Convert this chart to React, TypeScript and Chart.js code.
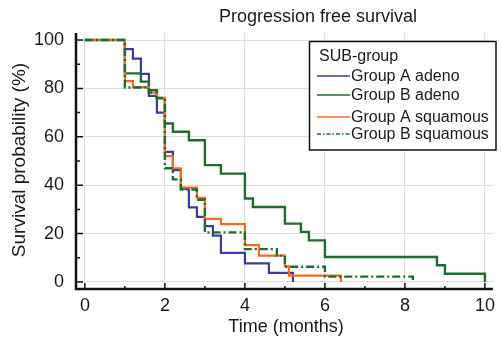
import React, { useEffect, useRef } from 'react';
import { Chart, registerables } from 'chart.js';

Chart.register(...registerables);

const TITLE = 'Progression free survival';
const X_TITLE = 'Time (months)';
const Y_TITLE = 'Survival probability (%)';
const LEGEND_TITLE = 'SUB-group';

const xTickValues = [0, 1, 2, 3, 4, 5, 6, 7, 8, 9, 10];
const yTickValues = [0, 10, 20, 30, 40, 50, 60, 70, 80, 90, 100];

const seriesNames = ['Group A adeno', 'Group B adeno', 'Group A squamous', 'Group B squamous'];

const aAdenoTime = [0, 1, 1.2, 1.4, 1.6, 1.8, 2, 2.2, 2.4, 2.6, 2.8, 3, 3.2, 3.4, 4, 4.6, 5.2];
const aAdenoSurv = [100, 96.2, 92.3, 86, 76.9, 70, 53.8, 46.2, 38.5, 30.8, 26.9, 23.1, 19.2, 12, 7.7, 3.8, 0];

const bAdenoTime = [0, 1, 1.4, 1.6, 1.8, 2, 2.2, 2.6, 3, 3.4, 4, 4.2, 5, 5.4, 5.6, 6, 8.8, 9, 10];
const bAdenoSurv = [100, 86.2, 82.8, 79.3, 75.9, 65.5, 62.1, 58.6, 48.3, 44.8, 34.5, 31, 24.1, 20.7, 17.2, 10.3, 6.9, 3.4, 0];

const aSquamTime = [0, 1, 1.2, 1.6, 1.8, 2, 2.2, 2.4, 2.8, 3, 3.4, 4, 4.35, 5, 5.1, 6.4];
const aSquamSurv = [100, 83, 80.5, 78.3, 76.1, 52, 47, 39, 34.8, 26.1, 23.9, 15.2, 10.9, 6.5, 2.6, 0];

const bSquamTime = [0, 1, 1.6, 1.8, 2, 2.2, 2.4, 2.8, 3, 4, 4.8, 5, 6, 8.2];
const bSquamSurv = [100, 80.4, 78.3, 76.1, 47, 42.4, 38.2, 34, 20.5, 13.6, 10.9, 6.3, 2.2, 0];

const BLUE = '#3c3c9e';
const GREEN = '#1f6b30';
const ORANGE = '#f26a24';
const DASH_DOT = [8, 3, 2, 3];
const FONT = '"Liberation Sans", Arial, sans-serif';
const TEXT = '#1a1a1a';

const toPoints = (t: number[], s: number[]) => t.map((v, i) => ({ x: v, y: s[i] }));

const decorPlugin = {
  id: 'decor',
  afterDraw(chart: any) {
    const { ctx, chartArea: a, scales } = chart;
    const x = scales.x;
    const y = scales.y;
    ctx.save();
    // axes
    ctx.strokeStyle = '#111';
    ctx.lineWidth = 2.5;
    ctx.beginPath();
    ctx.moveTo(a.left, a.top);
    ctx.lineTo(a.left, a.bottom);
    ctx.lineTo(a.right, a.bottom);
    ctx.stroke();
    // inward ticks
    ctx.lineWidth = 1.5;
    ctx.beginPath();
    xTickValues.forEach((v) => {
      const px = x.getPixelForValue(v);
      const len = v % 2 === 0 ? 6 : 3;
      ctx.moveTo(px, a.bottom);
      ctx.lineTo(px, a.bottom - len);
    });
    yTickValues.forEach((v) => {
      const py = y.getPixelForValue(v);
      const len = v % 20 === 0 ? 7 : 4;
      ctx.moveTo(a.left, py);
      ctx.lineTo(a.left + len, py);
    });
    ctx.stroke();

    // titles
    ctx.fillStyle = TEXT;
    ctx.textAlign = 'center';
    ctx.textBaseline = 'middle';
    ctx.font = `18px ${FONT}`;
    ctx.fillText(TITLE, 318, 17);
    ctx.fillText(X_TITLE, 286, 327);
    ctx.save();
    ctx.translate(20, 160);
    ctx.rotate(-Math.PI / 2);
    ctx.font = `19px ${FONT}`;
    ctx.fillText(Y_TITLE, 0, 0);
    ctx.restore();

    // legend
    const bx = 309.5, by = 41.5, bw = 186.5, bh = 108.5;
    ctx.fillStyle = '#fff';
    ctx.fillRect(bx, by, bw, bh);
    ctx.strokeStyle = '#111';
    ctx.lineWidth = 1.5;
    ctx.strokeRect(bx, by, bw, bh);
    ctx.fillStyle = TEXT;
    ctx.textAlign = 'left';
    ctx.font = `16px ${FONT}`;
    ctx.fillText(LEGEND_TITLE, 319, 57);
    const rowsY = [76, 95, 117, 134];
    const colors = [BLUE, GREEN, ORANGE, GREEN];
    seriesNames.forEach((name, i) => {
      const ry = rowsY[i];
      ctx.strokeStyle = colors[i];
      ctx.lineWidth = 1.5;
      ctx.setLineDash(i === 3 ? [4, 2, 1.5, 2] : []);
      ctx.beginPath();
      ctx.moveTo(317, ry);
      ctx.lineTo(350, ry);
      ctx.stroke();
      ctx.setLineDash([]);
      ctx.fillStyle = TEXT;
      ctx.fillText(name, 351, ry + 1);
    });
    ctx.restore();
  },
};

export default function App() {
  const ref = useRef<HTMLCanvasElement | null>(null);
  useEffect(() => {
    if (!ref.current) return;
    const chart = new Chart(ref.current, {
      type: 'line',
      data: {
        datasets: [
          {
            label: seriesNames[0],
            data: toPoints(aAdenoTime, aAdenoSurv),
            borderColor: BLUE,
            borderWidth: 2.2,
            stepped: 'before',
            pointRadius: 0,
            fill: false,
            order: 3,
          },
          {
            label: seriesNames[1],
            data: toPoints(bAdenoTime, bAdenoSurv),
            borderColor: GREEN,
            borderWidth: 2.4,
            stepped: 'before',
            pointRadius: 0,
            fill: false,
            order: 2,
          },
          {
            label: seriesNames[2],
            data: toPoints(aSquamTime, aSquamSurv),
            borderColor: ORANGE,
            borderWidth: 2.2,
            stepped: 'before',
            pointRadius: 0,
            fill: false,
            order: 1,
          },
          {
            label: seriesNames[3],
            data: toPoints(bSquamTime, bSquamSurv),
            borderColor: GREEN,
            borderWidth: 2.4,
            borderDash: DASH_DOT,
            stepped: 'before',
            pointRadius: 0,
            fill: false,
            order: 0,
          },
        ],
      },
      options: {
        responsive: false,
        animation: false,
        layout: { padding: { top: 33, right: 3, left: 0, bottom: 0 } },
        plugins: { legend: { display: false }, tooltip: { enabled: false }, title: { display: false } },
        scales: {
          x: {
            type: 'linear',
            min: -0.222,
            max: 10.2,
            afterBuildTicks: (s: any) => {
              s.ticks = xTickValues.map((v) => ({ value: v }));
            },
            afterFit: (s: any) => {
              s.height = 49;
            },
            grid: {
              drawTicks: false,
              color: (c: any) => (c.tick && c.tick.value % 2 === 0 ? '#dedede' : 'rgba(0,0,0,0)'),
              lineWidth: 1,
            },
            border: { display: false },
            ticks: {
              padding: 6,
              color: TEXT,
              font: { family: FONT, size: 18 },
              maxRotation: 0,
              autoSkip: false,
              callback: (v: any) => (Number(v) % 2 === 0 ? String(v) : ''),
            },
          },
          y: {
            type: 'linear',
            min: -2.9,
            max: 102.9,
            afterBuildTicks: (s: any) => {
              s.ticks = yTickValues.map((v) => ({ value: v }));
            },
            afterFit: (s: any) => {
              s.width = 76;
            },
            grid: {
              drawTicks: false,
              color: (c: any) => (c.tick && c.tick.value % 20 === 0 ? '#dedede' : 'rgba(0,0,0,0)'),
              lineWidth: 1,
            },
            border: { display: false },
            ticks: {
              padding: 12,
              color: TEXT,
              font: { family: FONT, size: 18 },
              autoSkip: false,
              callback: (v: any) => (Number(v) % 20 === 0 ? String(v) : ''),
            },
          },
        },
      },
      plugins: [decorPlugin],
    });
    return () => chart.destroy();
  }, []);
  return (
    <div style={{ position: 'fixed', left: 0, top: 0, width: 501, height: 338, background: '#fff' }}>
      <canvas ref={ref} width={501} height={338} style={{ width: 501, height: 338, display: 'block' }} />
    </div>
  );
}
